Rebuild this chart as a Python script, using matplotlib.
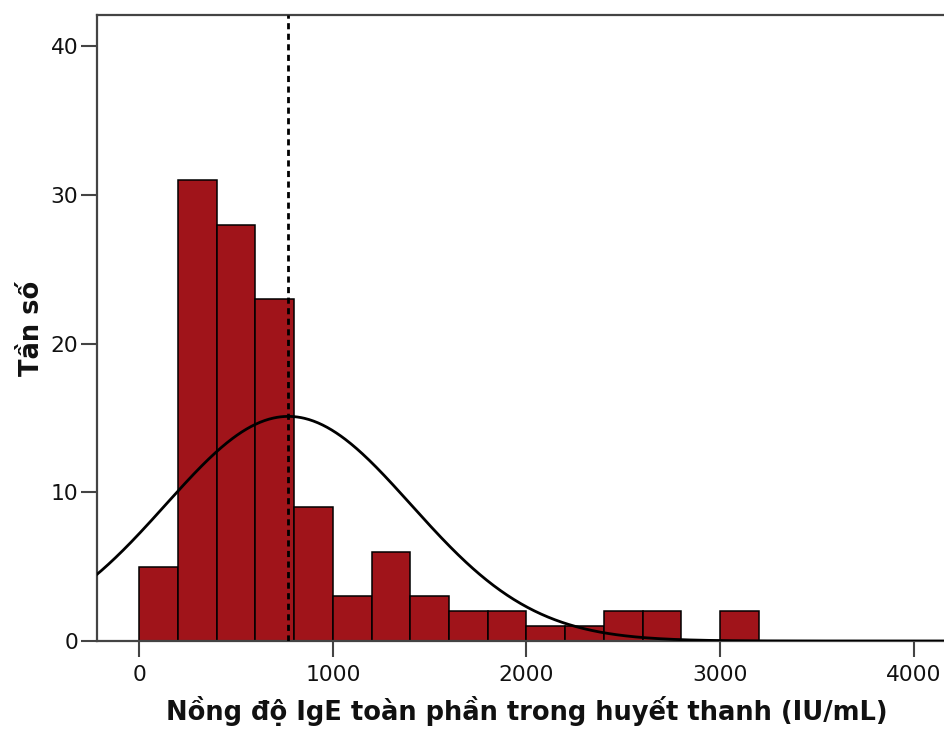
import numpy as np
import matplotlib
matplotlib.use("Agg")
import matplotlib.pyplot as plt

plt.rcParams['font.family'] = ['DejaVu Sans']

# Histogram of total serum IgE (bin width 200 IU/mL)
bin_edges = [0, 200, 400, 600, 800, 1000, 1200, 1400, 1600, 1800, 2000,
             2200, 2400, 2600, 2800, 3000, 3200]
counts = [5, 31, 28, 23, 9, 3, 6, 3, 2, 2, 1, 1, 2, 2, 0, 2]

# Fitted normal curve parameters; the dashed line marks the mean
mean_val = 770
sd_val = 634
n_total = 120

x_ticks = [0, 1000, 2000, 3000, 4000]
y_ticks = [0, 10, 20, 30, 40]

fig = plt.figure(figsize=(9.44, 7.32), dpi=100)
ax = fig.add_axes([0.1028, 0.1243, 0.91, 0.855])

edges = np.array(bin_edges)
widths = np.diff(edges)
ax.bar(edges[:-1], counts, width=widths, align='edge', color='#a0141a',
       edgecolor='black', linewidth=1.1, zorder=2)

xs = np.linspace(-300, 4400, 800)
bw = widths[0]
ys = n_total * bw / (sd_val * np.sqrt(2 * np.pi)) * np.exp(-0.5 * ((xs - mean_val) / sd_val) ** 2)
ax.plot(xs, ys, color='black', linewidth=2.0, zorder=3)

ax.axvline(mean_val, color='black', linestyle=(0, (2.2, 1.6)), linewidth=2.0, zorder=4)

ax.set_xlim(-218, 4219)
ax.set_ylim(0, 42.08)
ax.set_xticks(x_ticks)
ax.set_yticks(y_ticks)
ax.tick_params(axis='both', direction='out', length=11.5, width=1.5, labelsize=15.7,
               colors='#444444', labelcolor='#111111')
ax.tick_params(axis='x', pad=6)
ax.tick_params(axis='y', pad=2)

for s in ['left', 'bottom', 'top']:
    ax.spines[s].set_linewidth(1.6)
    ax.spines[s].set_color('#444444')
ax.spines['right'].set_visible(False)

ax.set_xlabel('Nồng độ IgE toàn phần trong huyết thanh (IU/mL)', fontsize=18.5,
              fontweight='bold', labelpad=8, color='#111111')
ax.set_ylabel('Tần số', fontsize=18.5, fontweight='bold', labelpad=4, color='#111111')

fig.savefig('out.png', dpi=100)
